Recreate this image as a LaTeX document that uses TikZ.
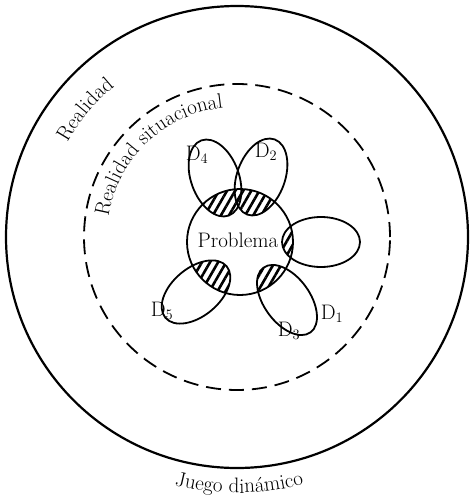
\documentclass[tikz,border=0pt]{standalone}
\usepackage{tikz}
\usetikzlibrary{patterns.meta,decorations.text}
\newcommand\labfont{\fontsize{21}{24}\selectfont}

\tikzset{
  petal/.style={draw=black,line width=1.8pt},
  hatch/.style={pattern={Lines[angle=60,distance=7pt,line width=2.6pt]}},
  dlabel/.style={font=\labfont,inner sep=0pt},
}

\begin{document}
\begin{tikzpicture}[x=1pt,y=1pt]
  \useasboundingbox (0,0) rectangle (470,-500);
  \coordinate (ctr) at (237,-237);
  \coordinate (prob) at (240,-242);
  % realidad
  \draw[line width=2.2pt] (ctr) circle (231);
  % realidad situacional
  \draw[line width=1.8pt,dash pattern=on 15pt off 8pt] (ctr) circle (153);
  % hatched overlaps with the problem
  \begin{scope}
    \clip (prob) circle (53);
    \begin{scope}
      \clip[rotate around={20:(215,-178)}] (215,-178) ellipse (24 and 40);
      \fill[hatch] (prob) circle (53);
    \end{scope}
    \begin{scope}
      \clip[rotate around={-20:(261,-177)}] (261,-177) ellipse (24 and 40);
      \fill[hatch] (prob) circle (53);
    \end{scope}
    \begin{scope}
      \clip (321,-242) ellipse (39 and 25);
      \fill[hatch] (prob) circle (53);
    \end{scope}
    \begin{scope}
      \clip[rotate around={-54:(287,-300)}] (287,-300) ellipse (40 and 23);
      \fill[hatch] (prob) circle (53);
    \end{scope}
    \begin{scope}
      \clip[rotate around={40:(196,-292)}] (196,-292) ellipse (40 and 24);
      \fill[hatch] (prob) circle (53);
    \end{scope}
  \end{scope}
  % labels
  \node[dlabel] (d4) at (197,-155) {D$_4$};
  \node[dlabel] (d2) at (266,-152) {D$_2$};
  \node[dlabel] (d5) at (162,-311) {D$_5$};
  \node[dlabel] (d1) at (332,-314) {D$_1$};
  \node[dlabel] (d3) at (289,-331) {D$_3$};
  \node[dlabel] (problema) at (238,-240) {Problema};
  % problem and dimensions
  \draw[petal] (prob) circle (53);
  \draw[petal,rotate around={20:(215,-178)}] (215,-178) ellipse (24 and 40);
  \draw[petal,rotate around={-20:(261,-177)}] (261,-177) ellipse (24 and 40);
  \draw[petal] (321,-242) ellipse (39 and 25);
  \draw[petal,rotate around={-54:(287,-300)}] (287,-300) ellipse (40 and 23);
  \draw[petal,rotate around={40:(196,-292)}] (196,-292) ellipse (40 and 24);
  % curved titles
  \path[decorate,decoration={text along path,text align=center,
    text={|\labfont|Realidad}}] (ctr) ++(153:194) arc (153:127:194);
  \path[decorate,decoration={text along path,text align=center,
    text={|\labfont|Realidad situacional}}] (ctr) ++(172:130) arc (172:95:130);
  \path[decorate,decoration={text along path,text align=center,
    text={|\labfont|Juego dinámico}}] (ctr) ++(253:256) arc (253:288:256);
\end{tikzpicture}
\end{document}
